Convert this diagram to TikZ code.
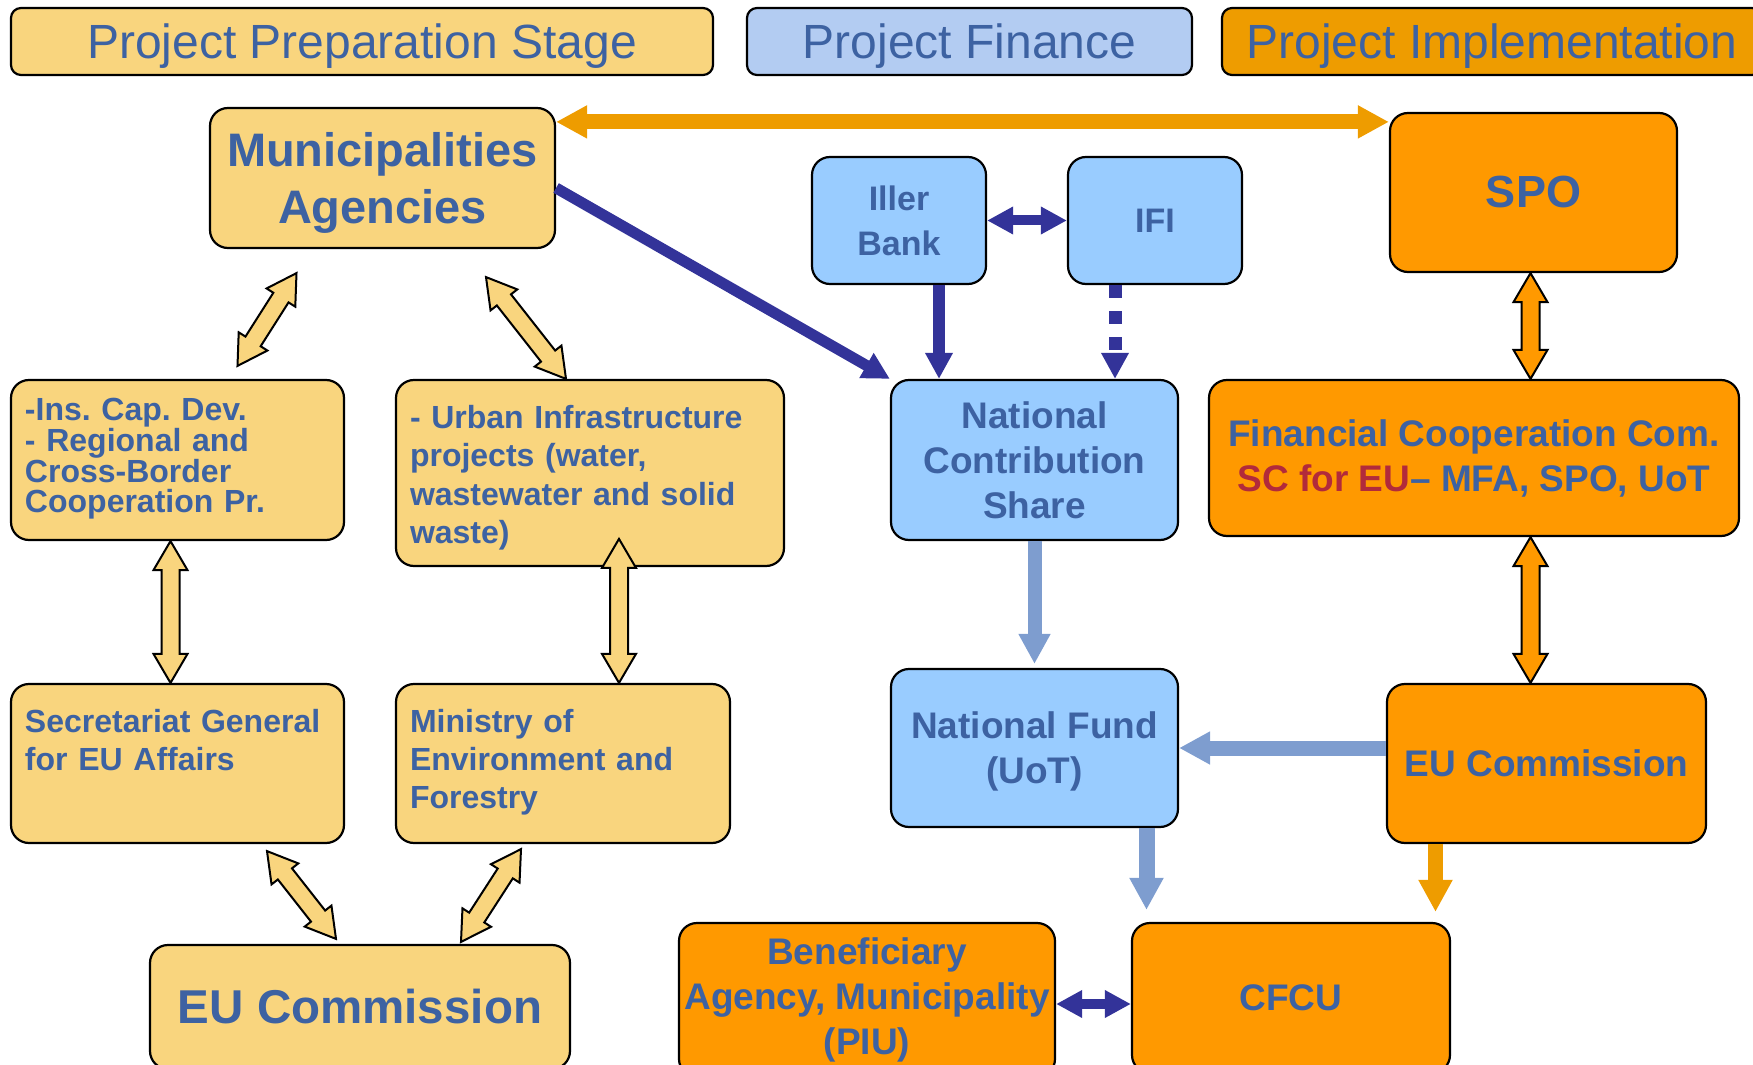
\documentclass[tikz,border=0pt]{standalone}
\usepackage{fontspec}
\setmainfont{Liberation Sans}
\usetikzlibrary{arrows.meta,calc}
\definecolor{ylw}{HTML}{F9D57E}
\definecolor{hdrblue}{HTML}{B3CCF2}
\definecolor{boxblue}{HTML}{99CCFF}
\definecolor{org}{HTML}{FF9900}
\definecolor{darkorg}{HTML}{EE9C00}
\definecolor{txt}{HTML}{3D62A2}
\definecolor{navy}{HTML}{333399}
\definecolor{arrblue}{HTML}{7E9DCF}
\definecolor{scred}{HTML}{B22A3B}
\newcommand{\fs}[2]{\fontsize{#1}{#2}\selectfont}
\frenchspacing
\begin{document}
\begin{tikzpicture}[x=0.5pt,y=-0.5pt,
  box/.style={draw,line width=1.1pt,rounded corners=9pt,text=txt,align=center,inner sep=2pt},
  ybox/.style={box,fill=ylw},
  bbox/.style={box,fill=boxblue},
  obox/.style={box,fill=org},
  hdr/.style={box,rounded corners=5pt,font=\fs{24pt}{28pt},text depth=0pt,minimum height=33.5pt},
  lbox/.style={ybox,align=left,inner xsep=7pt,inner ysep=7pt,font=\bfseries\fs{16pt}{19pt}},
  big/.style={font=\bfseries\fs{23.5pt}{28.5pt}},
  mid/.style={font=\bfseries\fs{18.5pt}{22.5pt}},
  tip/.style={-{Triangle[length=#1,width=#1]}},
  dtip/.style={{Triangle[length=#1,width=#1]}-{Triangle[length=#1,width=#1]}},
  fat/.style={draw=black,line width=1pt,line join=miter,to path={
    -- ($(\tikztostart)!14.5pt!(\tikztotarget)!8.5pt!90:(\tikztotarget)$)
    -- ($(\tikztostart)!14.5pt!(\tikztotarget)!4.5pt!90:(\tikztotarget)$)
    -- ($(\tikztotarget)!14.5pt!(\tikztostart)!4.5pt!-90:(\tikztostart)$)
    -- ($(\tikztotarget)!14.5pt!(\tikztostart)!8.5pt!-90:(\tikztostart)$)
    -- (\tikztotarget)
    -- ($(\tikztotarget)!14.5pt!(\tikztostart)!8.5pt!90:(\tikztostart)$)
    -- ($(\tikztotarget)!14.5pt!(\tikztostart)!4.5pt!90:(\tikztostart)$)
    -- ($(\tikztostart)!14.5pt!(\tikztotarget)!4.5pt!-90:(\tikztotarget)$)
    -- ($(\tikztostart)!14.5pt!(\tikztotarget)!8.5pt!-90:(\tikztotarget)$)
    -- cycle}}]
\useasboundingbox (0,0) rectangle (1753,1065);
\clip (0,0) rectangle (1753,1065);

\node[hdr,fill=ylw,minimum width=351pt] (hprep) at (362,41.5) {Project Preparation Stage};
\node[hdr,fill=hdrblue,minimum width=222.5pt] (hfin) at (969.5,41.5) {Project Finance};
\node[hdr,fill=darkorg,minimum width=270pt] (himp) at (1492,41.5) {Project Implementation};

\node[ybox,big,text depth=0pt,minimum width=172.5pt,minimum height=70pt] (mun) at (382.5,178) {Municipalities\\Agencies};
\node[bbox,font=\bfseries\fs{17pt}{22.5pt},minimum width=87pt,minimum height=63.5pt] (iller) at (899,220.5) {Iller\\Bank};
\node[bbox,font=\bfseries\fs{17pt}{22.5pt},minimum width=87pt,minimum height=63.5pt] (ifi) at (1155,220.5) {IFI};
\node[obox,font=\bfseries\fs{22.5pt}{27pt},minimum width=143.5pt,minimum height=79.5pt] (spo) at (1533.5,192.5) {SPO};

\node[lbox,text width=152.5pt,text height=13pt,text depth=53pt,font=\bfseries\fs{16pt}{15.5pt}] (ins) at (177.5,460) {-Ins. Cap. Dev.\\- Regional and\\Cross-Border\\Cooperation Pr.};
\node[lbox,text width=180pt,text height=17pt,text depth=62pt,font=\bfseries\fs{16pt}{19.25pt}] (urb) at (590,473) {- Urban Infrastructure\\projects (water,\\wastewater and solid\\waste)};
\node[bbox,mid,minimum width=143.5pt,minimum height=80pt] (ncs) at (1034.5,460) {National\\Contribution\\Share};
\node[obox,mid,minimum width=265pt,minimum height=78pt] (fcc) at (1474,458) {Financial Cooperation Com.\\{\color{scred}SC for EU}– MFA, SPO, UoT};

\node[lbox,text width=152.5pt,text height=17pt,text depth=48.5pt] (sec) at (177.5,763.5) {Secretariat General\\for EU Affairs};
\node[lbox,text width=153pt,text height=17pt,text depth=48.5pt] (min) at (563,763.5) {Ministry of\\Environment and\\Forestry};
\node[bbox,mid,text depth=0pt,minimum width=143.5pt,minimum height=79pt] (nf) at (1034.5,748) {National Fund\\(UoT)};
\node[obox,mid,minimum width=159.5pt,minimum height=79.5pt] (euc) at (1546.5,763.5) {EU Commission};

\node[ybox,font=\bfseries\fs{23.75pt}{28pt},minimum width=210pt,minimum height=62pt] (eub) at (360,1007) {EU Commission};
\node[obox,mid,minimum width=188pt,minimum height=77pt] (ben) at (867,1000) {Beneficiary\\Agency, Municipality\\(PIU)};
\node[obox,mid,minimum width=159pt,minimum height=75pt] (cfcu) at (1291,998) {CFCU};

\coordinate (ta) at ($(mun.north east)+(0,15)$);
\draw[darkorg,line width=7.5pt,dtip=15.5pt] (ta) -- (ta -| spo.west);
\draw[navy,line width=5.5pt,tip=13.5pt] ($(mun.east)+(0,10)$) -- (ncs.north west);
\draw[navy,line width=5pt,dtip=13pt] (iller.east) -- (ifi.west);
\coordinate (ib) at ([xshift=20pt]iller.south);
\draw[navy,line width=6pt,tip=13pt] (ib) -- (ib |- ncs.north);
\coordinate (fb) at ([xshift=-20pt]ifi.south);
\draw[navy,line width=6.5pt,dash pattern=on 6.5pt off 6.5pt,tip=13pt] (fb) -- (fb |- ncs.north);
\draw[arrblue,line width=7pt,tip=15pt,shorten >=2pt] (ncs.south) -- (nf.north);
\draw[arrblue,line width=7.5pt,tip=15.5pt] (euc.west |- nf.east) -- (nf.east);
\coordinate (nb) at ([xshift=56pt]nf.south);
\draw[arrblue,line width=8pt,tip=16pt,shorten >=6pt] (nb) -- (nb |- cfcu.north);
\coordinate (eb) at ([xshift=-55.5pt]euc.south);
\draw[darkorg,line width=7.5pt,tip=16pt,shorten >=5pt] (eb) -- (eb |- cfcu.north);
\coordinate (bc) at ([yshift=-2pt]ben.east);
\draw[navy,line width=5pt,dtip=13pt] (bc) -- (bc -| cfcu.west);

\coordinate (m1) at ($(mun.south)+(-86,24)$);
\coordinate (i1) at ($(ins.north)+(60,-13)$);
\coordinate (m2) at ($(mun.south)+(103.5,28)$);
\coordinate (u1) at ($(urb.north)+(-24,0)$);
\coordinate (i2) at ([xshift=-3.5pt]ins.south);
\coordinate (s1) at (i2 |- sec.north);
\coordinate (u2) at ($(min.north)+(56,-144)$);
\coordinate (n1) at ($(min.north)+(56,0)$);
\coordinate (s2) at ($(sec.south)+(89.5,7)$);
\coordinate (e1) at ($(eub.north)+(-24,-5)$);
\coordinate (n2) at ($(min.south)+(-42,5)$);
\coordinate (e2) at ($(eub.north)+(101,-2)$);
\coordinate (p1) at ([xshift=-1.5pt]spo.south);
\coordinate (f1) at (p1 |- fcc.north);
\coordinate (f2) at (p1 |- fcc.south);
\coordinate (c1) at (p1 |- euc.north);
\draw[fat,fill=ylw] (m1) to (i1);
\draw[fat,fill=ylw] (m2) to (u1);
\draw[fat,fill=ylw] (i2) to (s1);
\draw[fat,fill=ylw] (u2) to (n1);
\draw[fat,fill=ylw] (s2) to (e1);
\draw[fat,fill=ylw] (n2) to (e2);
\draw[fat,fill=org] (p1) to (f1);
\draw[fat,fill=org] (f2) to (c1);
\end{tikzpicture}
\end{document}
